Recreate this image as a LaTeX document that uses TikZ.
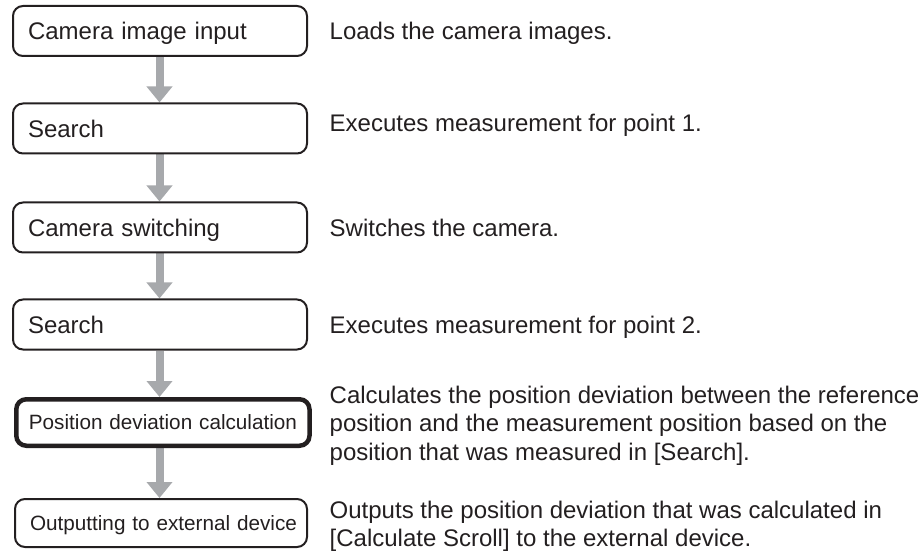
\documentclass[tikz,border=0pt]{standalone}
\usepackage{fontspec}
\setmainfont{Liberation Sans}
\usetikzlibrary{arrows.meta,backgrounds}
\definecolor{inkgray}{HTML}{231F20}
\definecolor{arrowgray}{HTML}{A7A9AC}

\begin{document}
\begin{tikzpicture}[x=1pt,y=-1pt,
  stepbox/.style={draw=inkgray,line width=2pt,rounded corners=10pt,minimum height=50pt,
    text width=264pt,inner xsep=15pt,inner ysep=0pt,align=left,text=inkgray,
    text height=17.2pt,text depth=0pt,font=\fontsize{24}{28.5}\selectfont},
  smallbox/.style={stepbox,text height=14.8pt,font=\fontsize{20.7}{25}\selectfont},
  desc/.style={anchor=base west,inner sep=0pt,align=left,text=inkgray,
    font=\fontsize{24}{28.5}\selectfont},
  flowarrow/.style={draw=arrowgray,line width=8pt,-{Triangle[width=25pt,length=16pt]}}]
  \useasboundingbox (0,0) rectangle (921,553);
  \coordinate (spine) at (159.5,0);
  % flow boxes (left column)
  \node[stepbox] (input) at (160,31) {Camera image input};
  \node[stepbox] (search1) at (160,128.5) {Search};
  \node[stepbox] (switch) at (160,227.5) {Camera switching};
  \node[stepbox] (search2) at (160,324.5) {Search};
  \node[smallbox,line width=4.5pt,minimum height=46.5pt,text width=268pt,inner xsep=12.6pt] (posdev) at (162.9,422.5) {\mbox{Position deviation calculation}};
  \node[smallbox,minimum height=48pt,text width=262pt] (output) at (161,523) {\mbox{Outputting to external device}};
  % gray arrows between the boxes, all on one vertical line
  \begin{scope}[on background layer]
    \foreach \from/\to in {input/search1,search1/switch,switch/search2,search2/posdev,posdev/output}{
      \draw[flowarrow] (\from.south -| spine) -- (\to.north -| spine);
    }
  \end{scope}
  % descriptions (right column); the base of a multi-line node is its last line
  \node[desc] (d-input) at (329.5,40) {Loads the camera images.};
  \node[desc] (d-search1) at (329.5,132) {Executes measurement for point 1.};
  \node[desc] (d-switch) at (329.5,237) {Switches the camera.};
  \node[desc] (d-search2) at (329.5,334) {Executes measurement for point 2.};
  \node[desc] (d-posdev) at (329.5,460) {Calculates the position deviation between the reference\\
    position and the measurement position based on the\\
    position that was measured in [Search].};
  \node[desc] (d-output) at (329.5,546.5) {Outputs the position deviation that was calculated in
    \\{}[Calculate Scroll] to the external device.};
\end{tikzpicture}
\end{document}
